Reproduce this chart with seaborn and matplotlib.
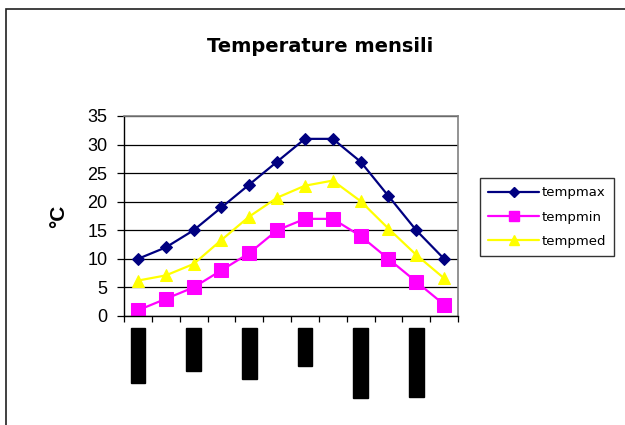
import matplotlib
matplotlib.use("Agg")
import matplotlib.pyplot as plt
import seaborn as sns
import pandas as pd
from matplotlib.lines import Line2D
from matplotlib.patches import Rectangle

months = ["gennaio", "febbraio", "marzo", "aprile", "maggio", "giugno",
          "luglio", "agosto", "settembre", "ottobre", "novembre", "dicembre"]
tempmax = [10, 12, 15, 19, 23, 27, 31, 31, 27, 21, 15, 10]
tempmin = [1, 3, 5, 8, 11, 15, 17, 17, 14, 10, 6, 2]
tempmed = [6.2, 7.1, 9.1, 13.3, 17.4, 20.7, 22.8, 23.7, 20.1, 15.3, 10.7, 6.6]
yticks = [0, 5, 10, 15, 20, 25, 30, 35]

sns.set_style("white")
plt.rcParams["font.family"] = ["Liberation Sans", "DejaVu Sans"]
plt.rcParams["text.color"] = "black"
plt.rcParams["axes.labelcolor"] = "black"
plt.rcParams["xtick.color"] = "black"
plt.rcParams["ytick.color"] = "black"

fig = plt.figure(figsize=(6.25, 4.25), dpi=100)
ax = fig.add_axes([124 / 625, 1 - 316 / 425, (458 - 124) / 625, 200 / 425])

df = pd.DataFrame({"x": range(len(months)), "tempmax": tempmax,
                   "tempmin": tempmin, "tempmed": tempmed})

styles = [("tempmax", "#000080", "D", 6.0),
          ("tempmin", "#FF00FF", "s", 9.5),
          ("tempmed", "#FFFF00", "^", 9.0)]

handles = []
for name, color, marker, ms in styles:
    sns.lineplot(data=df, x="x", y=name, ax=ax, color=color, marker=marker,
                 markersize=ms, markeredgecolor=color, linewidth=1.6,
                 legend=False)
    handles.append(Line2D([0], [0], color=color, marker=marker,
                          markersize=ms * 0.8, markeredgecolor=color,
                          linewidth=1.6, label=name))

ax.set_xlim(-0.5, len(months) - 0.5)
ax.set_ylim(0, 35)
ax.set_yticks(yticks)
ax.set_yticklabels([str(v) for v in yticks], fontsize=13)
ax.yaxis.grid(True, color="black", linewidth=0.9)
ax.set_axisbelow(True)

# category boundaries carry the tick marks, centres carry the labels
ax.set_xticks([i - 0.5 for i in range(len(months) + 1)])
ax.set_xticklabels([])
ax.set_xticks(range(len(months)), minor=True)
ax.set_xticklabels([m if i % 2 == 0 else "" for i, m in enumerate(months)],
                   minor=True, rotation=90, fontsize=9.5, va="top",
                   family="DejaVu Sans")
ax.tick_params(axis="x", which="major", direction="out", length=4,
               width=0.9, color="black", bottom=True)
ax.tick_params(axis="x", which="minor", length=0, pad=9)
ax.tick_params(axis="y", direction="out", length=5, width=0.9,
               color="black", left=True, pad=7)
for lab in ax.get_xticklabels(minor=True):
    if lab.get_text():
        lab.set_color("black")
        lab.set_bbox(dict(facecolor="black", edgecolor="black", pad=0.6))

ax.set_xlabel("")
ax.set_ylabel("°C", fontsize=15, fontweight="bold", labelpad=14)

for side in ("left", "bottom"):
    ax.spines[side].set_color("black")
    ax.spines[side].set_linewidth(1.0)
for side in ("top", "right"):
    ax.spines[side].set_visible(True)
    ax.spines[side].set_color("#808080")
    ax.spines[side].set_linewidth(1.2)

fig.text(320 / 625, 1 - 46 / 425, "Temperature mensili", ha="center",
         va="center", fontsize=14, fontweight="bold", family="DejaVu Sans",
         color="black")

leg = fig.legend(handles=handles, loc="center left",
                 bbox_to_anchor=(480 / 625, 1 - 217 / 425),
                 prop={"family": "DejaVu Sans", "size": 9.5},
                 handlelength=3.9, handletextpad=0.15, labelspacing=0.85,
                 borderpad=0.6, borderaxespad=0, fancybox=False,
                 frameon=True)
leg.get_frame().set_edgecolor("black")
leg.get_frame().set_linewidth(1.0)
for t in leg.get_texts():
    t.set_color("black")

fig.add_artist(Rectangle((6 / 625, -0.05), 1.0, 1 - 9 / 425 + 0.05,
                         transform=fig.transFigure, fill=False,
                         edgecolor="#202020", linewidth=1.2))

fig.savefig("out.png", dpi=100)
